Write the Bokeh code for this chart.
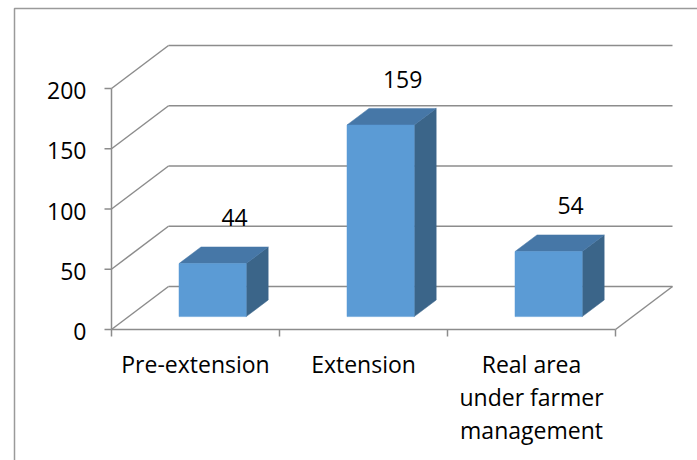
from bokeh.plotting import figure
from bokeh.models import Range1d, ColumnDataSource
from bokeh.embed import file_html
from bokeh.resources import INLINE
from bokeh.core.properties import value

# ---------------- data ----------------
categories = ["Pre-extension", "Extension", "Real area\nunder farmer\nmanagement"]
values = [44, 159, 54]
y_ticks = [0, 50, 100, 150, 200]
y_tick_labels = ["0", "50", "100", "150", "200"]

# ---------------- layout / projection ----------------
W, H = 697, 460
ORIGIN_X, ORIGIN_Y = 111, 329          # screen position of (category 0, value 0), front plane
PX_PER_CAT = 168.0
PX_PER_UNIT = 241.0 / 200.0
DEPTH_DX_PX, DEPTH_DY_PX = 57.0, 43.0   # oblique offset of the back wall
DX = DEPTH_DX_PX / PX_PER_CAT
DY = DEPTH_DY_PX / PX_PER_UNIT
BAR_W = 0.4
BAR_D0, BAR_D1 = 0.30, 0.686

GRID = "#8C8C8C"
FONT = "Open Sans"
FS = "23px"

n = len(categories)


def proj(u, v, d):
    return u + d * DX, v + d * DY


x_range = Range1d(-ORIGIN_X / PX_PER_CAT, (W - ORIGIN_X) / PX_PER_CAT)
y_range = Range1d(-(H - ORIGIN_Y) / PX_PER_UNIT, ORIGIN_Y / PX_PER_UNIT)

p = figure(width=W, height=H, x_range=x_range, y_range=y_range,
           output_backend="svg", toolbar_location=None,
           min_border=0, min_border_left=0, min_border_right=0,
           min_border_top=0, min_border_bottom=0)
p.axis.visible = False
p.grid.visible = False
p.outline_line_color = None
p.background_fill_color = "white"
p.border_fill_color = "white"

sx = 1.0 / PX_PER_CAT     # one screen px in data-x
sy = 1.0 / PX_PER_UNIT    # one screen px in data-y

# ---------------- chart-area border (left & top edges) ----------------
bl = x_range.start + 14 * sx
bt = y_range.end - 8 * sy
p.line([bl, bl, x_range.end], [y_range.start, bt, bt], line_color="#9A9A9A", line_width=1.5)

# ---------------- walls / floor ----------------
x0s, y0s, x1s, y1s = [], [], [], []
for t in y_ticks:
    # back wall gridline
    a = proj(0, t, 1); b = proj(n, t, 1)
    x0s.append(a[0]); y0s.append(a[1]); x1s.append(b[0]); y1s.append(b[1])
    # side wall diagonal
    a = proj(0, t, 0); b = proj(0, t, 1)
    x0s.append(a[0]); y0s.append(a[1]); x1s.append(b[0]); y1s.append(b[1])
# floor front edge (x axis) and right edge
a = proj(0, 0, 0); b = proj(n, 0, 0)
x0s.append(a[0]); y0s.append(a[1]); x1s.append(b[0]); y1s.append(b[1])
a = proj(n, 0, 0); b = proj(n, 0, 1)
x0s.append(a[0]); y0s.append(a[1]); x1s.append(b[0]); y1s.append(b[1])
# y axis line
x0s.append(0); y0s.append(0); x1s.append(0); y1s.append(max(y_ticks))
# y ticks
for t in y_ticks:
    x0s.append(0); y0s.append(t); x1s.append(-7 * sx); y1s.append(t)
# x ticks (category boundaries)
for k in range(n + 1):
    x0s.append(k); y0s.append(0); x1s.append(k); y1s.append(-7 * sy)

p.segment(x0=x0s, y0=y0s, x1=x1s, y1=y1s, line_color=GRID, line_width=1.5)

# ---------------- 3D bars ----------------
front = dict(left=[], right=[], top=[], bottom=[])
tops_x, tops_y, side_x, side_y = [], [], [], []
for i, v in enumerate(values):
    l = i + 0.5 - BAR_W / 2
    r = i + 0.5 + BAR_W / 2
    fl, fb = proj(l, 0, BAR_D0)
    fr, ft = proj(r, v, BAR_D0)
    front["left"].append(fl); front["right"].append(fr)
    front["bottom"].append(fb); front["top"].append(ft)
    pts = [proj(l, v, BAR_D0), proj(r, v, BAR_D0), proj(r, v, BAR_D1), proj(l, v, BAR_D1)]
    tops_x.append([q[0] for q in pts]); tops_y.append([q[1] for q in pts])
    pts = [proj(r, 0, BAR_D0), proj(r, v, BAR_D0), proj(r, v, BAR_D1), proj(r, 0, BAR_D1)]
    side_x.append([q[0] for q in pts]); side_y.append([q[1] for q in pts])

p.patches(side_x, side_y, fill_color="#3B6589", line_color="#3B6589", line_width=0.5)
p.patches(tops_x, tops_y, fill_color="#4677A7", line_color="#4677A7", line_width=0.5)
p.quad(source=ColumnDataSource(front), left="left", right="right", top="top", bottom="bottom",
       fill_color="#5B9BD5", line_color="#5B9BD5", line_width=0.5)

# ---------------- data labels ----------------
lab_x, lab_y = [], []
for i, v in enumerate(values):
    q = proj(i + 0.5, v, BAR_D1)
    lab_x.append(q[0]); lab_y.append(q[1])
p.text(x=lab_x, y=lab_y, text=[str(v) for v in values], text_align="center",
       text_baseline="middle", y_offset=-29, text_font=value(FONT),
       text_font_size=FS, text_color="black")

# ---------------- y tick labels ----------------
p.text(x=[0] * len(y_ticks), y=y_ticks, text=y_tick_labels, text_align="right",
       text_baseline="middle", x_offset=-25, y_offset=2, text_font=value(FONT),
       text_font_size=FS, text_color="black")

# ---------------- category labels ----------------
cx, cy, ct, co = [], [], [], []
for i, c in enumerate(categories):
    for j, line in enumerate(c.split("\n")):
        cx.append(i + 0.5); cy.append(0); ct.append(line); co.append(34 + 33 * j)
p.text(source=ColumnDataSource(dict(x=cx, y=cy, t=ct, o=co)), x="x", y="y", text="t",
       y_offset="o", text_align="center", text_baseline="middle",
       text_font=value(FONT), text_font_size=FS, text_color="black")

open("out.html", "w").write(file_html(p, INLINE))
